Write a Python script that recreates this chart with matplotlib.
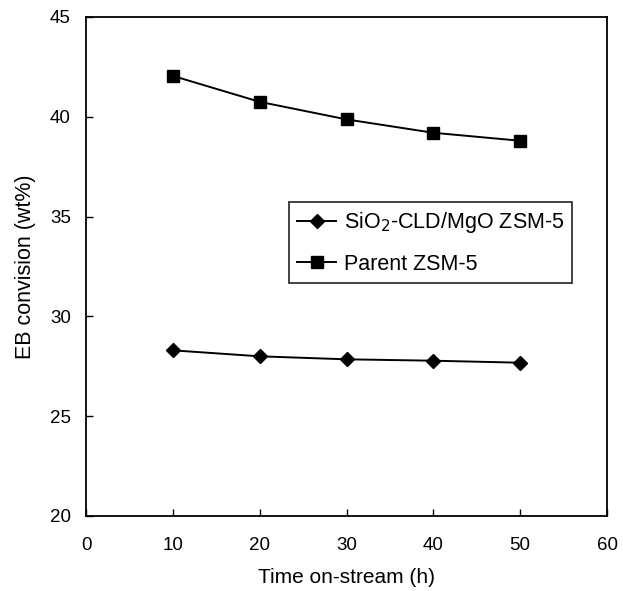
import matplotlib
matplotlib.use("Agg")
import matplotlib.pyplot as plt

plt.rcParams['font.family'] = ['Liberation Sans', 'DejaVu Sans']

# Données
time_h = [10, 20, 30, 40, 50]
sio2_mgo = [28.3, 28.0, 27.85, 27.78, 27.68]
parent = [42.05, 40.75, 39.87, 39.2, 38.8]

fig = plt.figure(figsize=(6.23, 5.91), dpi=100)
ax = fig.add_axes([86 / 623, 1 - 516 / 591, 521 / 623, 499 / 591])

ax.plot(time_h, sio2_mgo, color='black', linewidth=1.4, marker='D', markersize=7.5,
        label='SiO$_2$-CLD/MgO ZSM-5')
ax.plot(time_h, parent, color='black', linewidth=1.4, marker='s', markersize=8.5,
        label='Parent ZSM-5')

ax.set_xlim(0, 60)
ax.set_ylim(20, 45)
ax.set_xticks(range(0, 61, 10))
ax.set_yticks(range(20, 46, 5))
ax.tick_params(direction='in', length=5, width=1, labelsize=13.5)
ax.tick_params(axis='x', pad=15)
ax.tick_params(axis='y', pad=11)
for s in ax.spines.values():
    s.set_linewidth(1.3)

ax.set_xlabel('Time on-stream (h)', fontsize=15, labelpad=10)
ax.set_ylabel('EB convision (wt%)', fontsize=15.5, labelpad=10)

leg = ax.legend(loc='upper left', bbox_to_anchor=(0.39, 0.629), fontsize=15.5,
                frameon=True, fancybox=False, edgecolor='black', handlelength=1.8,
                handletextpad=0.35, labelspacing=0.85, borderpad=0.38,
                borderaxespad=0)
leg.get_frame().set_linewidth(1.3)

fig.savefig('out.png', dpi=100)
